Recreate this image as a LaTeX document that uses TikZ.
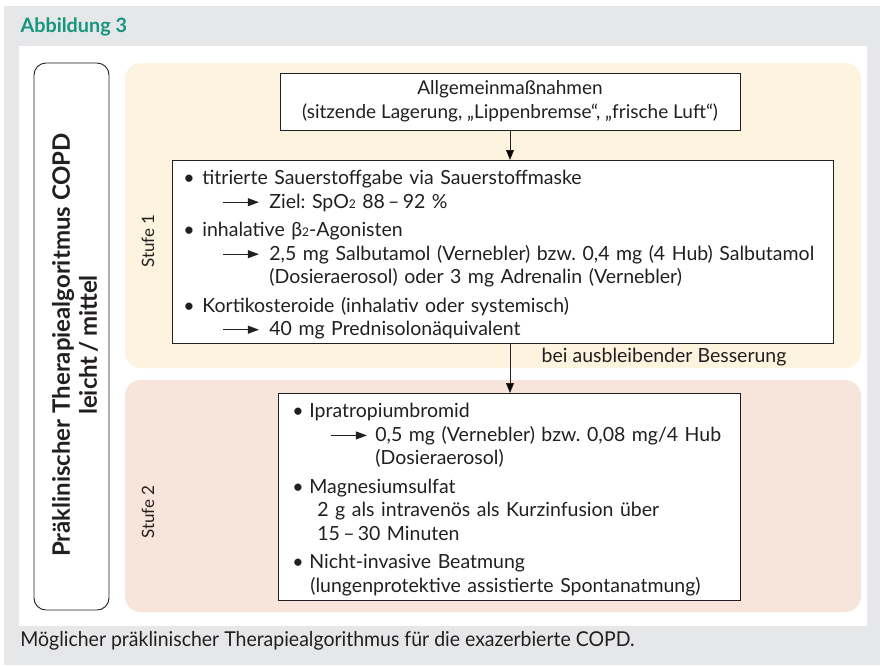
\documentclass[tikz,border=0pt]{standalone}
\usepackage{fontspec}
\setmainfont{Lato}
\usetikzlibrary{arrows.meta}
\frenchspacing
\definecolor{bggray}{HTML}{E6E7E9}
\definecolor{stufeA}{HTML}{FCF4DF}
\definecolor{stufeB}{HTML}{F7E4DB}
\definecolor{teal}{HTML}{16957F}
\definecolor{ink}{HTML}{231F20}
\newcommand{\arr}{\tikz[baseline=-0.6ex]\draw[-{Triangle[length=11pt,width=8pt]},line width=0.9pt,ink] (0,0)--(36pt,0);}
\newcommand{\sub}[1]{{\fontsize{12}{12}\selectfont #1}}
\newcommand{\topstrut}{\rule{0pt}{20pt}}
\tikzset{
  panel/.style={draw=none,rounded corners=16pt},
  box/.style={draw=ink,line width=0.8pt,fill=white,inner sep=0pt},
  conn/.style={-{Triangle[length=10pt,width=8pt]},line width=0.8pt,draw=ink},
  body/.style={font=\fontsize{19.5}{23.5}\selectfont,text=ink}
}
\begin{document}
\begin{tikzpicture}[x=1pt,y=-1pt]
\useasboundingbox (0,0) rectangle (880,665);
\fill[white] (0,0) rectangle (880,665);
\fill[bggray] (4,6) rectangle (880,665);
\fill[white] (19,46) rectangle (867,626);
\node[anchor=west,font=\fontsize{19.8}{22}\selectfont\bfseries,text=teal] (title) at (17,27) {Abbildung 3};
\node[anchor=west,font=\fontsize{20.5}{22}\selectfont,text=ink,xscale=0.95,transform shape] (caption) at (17,641) {Möglicher präklinischer Therapiealgorithmus für die exazerbierte COPD.};
% left box
\draw[ink,line width=0.9pt,rounded corners=12pt] (34,63) rectangle (109,610);
\node[rotate=90,align=center,font=\fontsize{24}{27}\selectfont\bfseries,text=ink] (lefttitle) at (75,345) {Präklinischer Therapiealgoritmus COPD\\leicht\,/\,mittel};
% panels
\fill[stufeA,panel] (125,63) rectangle (861,368);
\fill[stufeB,panel] (125,380) rectangle (861,612);
\node[rotate=90,font=\fontsize{17}{20}\selectfont,text=ink] (s1) at (148,241) {Stufe 1};
\node[rotate=90,font=\fontsize{17}{20}\selectfont,text=ink] (s2) at (148,512) {Stufe 2};
% boxes
\node[box,body,font=\fontsize{19}{24}\selectfont,minimum width=460pt,minimum height=57pt,align=center] (allg) at (510,101.5) {Allgemeinmaßnahmen\\(sitzende Lagerung, „Lippenbremse“, „frische Luft“)};
\node[box,body,anchor=north west,text width=639pt,minimum height=183pt,inner xsep=11pt,inner ysep=2pt,align=left] (b1) at (172,160) {%
\topstrut\makebox[19pt][l]{\textbullet}titrierte Sauerstoffgabe via Sauerstoffmaske\\
\makebox[86pt][l]{\hspace*{39pt}\arr}Ziel: SpO\sub{2} 88\,–\,92 \%\\[5pt]
\makebox[19pt][l]{\textbullet}inhalative β\sub{2}-Agonisten\\
\makebox[86pt][l]{\hspace*{39pt}\arr}2,5 mg Salbutamol (Vernebler) bzw. 0,4 mg (4 Hub) Salbutamol\\
\hspace*{86pt}(Dosieraerosol) oder 3 mg Adrenalin (Vernebler)\\[5pt]
\makebox[19pt][l]{\textbullet}Kortikosteroide (inhalativ oder systemisch)\\
\makebox[86pt][l]{\hspace*{39pt}\arr}40 mg Prednisolonäquivalent};
\node[box,body,anchor=north west,text width=450pt,minimum height=207pt,inner xsep=6pt,inner ysep=2pt,align=left] (b2) at (278,393) {%
\topstrut\hspace*{8pt}\makebox[17pt][l]{\textbullet}Ipratropiumbromid\\
\hspace*{8pt}\makebox[83pt][l]{\hspace*{38pt}\arr}0,5 mg (Vernebler) bzw. 0,08 mg/4 Hub\\
\hspace*{91pt}(Dosieraerosol)\\[5pt]
\hspace*{8pt}\makebox[17pt][l]{\textbullet}Magnesiumsulfat\\
\hspace*{33pt}2 g als intravenös als Kurzinfusion über\\
\hspace*{33pt}15\,–\,30 Minuten\\[5pt]
\hspace*{8pt}\makebox[17pt][l]{\textbullet}Nicht-invasive Beatmung\\
\hspace*{26pt}(lungenprotektive assistierte Spontanatmung)};
\draw[conn] (allg.south) -- (allg.south |- b1.north);
\draw[conn] (b1.south -| allg.south) -- (allg.south |- b2.north) node[pos=0.28,anchor=west,body,xshift=28pt] (lbl) {bei ausbleibender Besserung};
\end{tikzpicture}
\end{document}
